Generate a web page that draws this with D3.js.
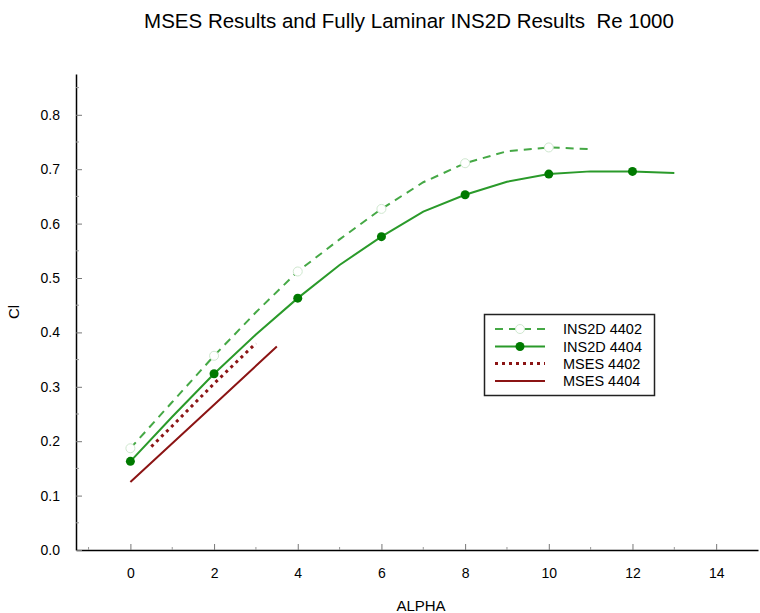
<!DOCTYPE html>
<html><head><meta charset="utf-8">
<script src="https://cdn.jsdelivr.net/npm/d3@7"></script>
<style>body{margin:0;background:#fff}svg{display:block}text{font-family:"Liberation Sans",Arial,Helvetica,sans-serif;white-space:pre}</style>
</head><body><svg id="c" width="760" height="613"></svg>
<script>
// Data
const ins4402Alpha = [0, 1, 2, 3, 4, 5, 6, 7, 8, 9, 10, 11];
const ins4402Cl    = [0.187, 0.272, 0.357, 0.437, 0.512, 0.571, 0.627, 0.676, 0.711, 0.733, 0.740, 0.737];
const ins4402Marks = [0, 2, 4, 6, 8, 10];
const ins4404Alpha = [0, 1, 2, 3, 4, 5, 6, 7, 8, 9, 10, 11, 12, 13];
const ins4404Cl    = [0.163, 0.245, 0.324, 0.396, 0.463, 0.524, 0.576, 0.622, 0.653, 0.677, 0.691, 0.696, 0.696, 0.693];
const ins4404Marks = [0, 2, 4, 6, 8, 10, 12];
const mses4402Alpha = [0.5, 1, 2, 3];
const mses4402Cl    = [0.19, 0.228, 0.306, 0.38];
const mses4404Alpha = [0, 2, 3.5];
const mses4404Cl    = [0.125, 0.267, 0.374];
const xTicks = [0, 2, 4, 6, 8, 10, 12, 14];
const yTicks = [0.0, 0.1, 0.2, 0.3, 0.4, 0.5, 0.6, 0.7, 0.8];
const legendLabels = ["INS2D 4402", "INS2D 4404", "MSES 4402", "MSES 4404"];

const svg = d3.select("#c");
const x = d3.scaleLinear().domain([-1.3, 15]).range([76, 758]);
const y = d3.scaleLinear().domain([0, 0.875]).range([550, 74]);

const cGreen = "#2a9a2a", cGreenDash = "#45a845", cMark = "#007a00", cRed = "#8b1414";

// axes
const xAxis = d3.axisBottom(x).tickValues(xTicks).tickSizeInner(-6).tickSizeOuter(0).tickPadding(18).tickFormat(d3.format("d"));
const gx = svg.append("g").attr("transform", "translate(0,550)").call(xAxis);
const yAxis = d3.axisLeft(y).tickValues(yTicks).tickSizeInner(-6).tickSizeOuter(0).tickPadding(16).tickFormat(d3.format(".1f"));
const gy = svg.append("g").attr("transform", "translate(76,0)").call(yAxis);
[gx, gy].forEach(g => {
  g.select(".domain").attr("stroke", "#000").attr("stroke-width", 1.5);
  g.selectAll(".tick line").attr("stroke", "#777");
  g.selectAll(".tick text").attr("font-size", 14).attr("fill", "#000").attr("font-family", "Liberation Sans, Arial, sans-serif");
});
// minor ticks
const xMinor = d3.range(-1, 15, 2);
svg.append("g").selectAll("line").data(xMinor).join("line")
  .attr("x1", d => x(d)).attr("x2", d => x(d)).attr("y1", 550).attr("y2", 547).attr("stroke", "#999");
const yMinor = d3.range(0.05, 0.86, 0.1);
svg.append("g").selectAll("line").data(yMinor).join("line")
  .attr("x1", 76).attr("x2", 79).attr("y1", d => y(d)).attr("y2", d => y(d)).attr("stroke", "#999");

const line = d3.line().x(d => x(d[0])).y(d => y(d[1]));
const zip = (a, b) => a.map((v, i) => [v, b[i]]);

svg.append("path").datum(zip(mses4404Alpha, mses4404Cl)).attr("d", line)
  .attr("fill", "none").attr("stroke", cRed).attr("stroke-width", 2);
svg.append("path").datum(zip(mses4402Alpha, mses4402Cl)).attr("d", line)
  .attr("fill", "none").attr("stroke", cRed).attr("stroke-width", 3).attr("stroke-dasharray", "3,4");
svg.append("path").datum(zip(ins4402Alpha, ins4402Cl)).attr("d", line)
  .attr("fill", "none").attr("stroke", cGreenDash).attr("stroke-width", 2).attr("stroke-dasharray", "8,6");
svg.append("path").datum(zip(ins4404Alpha, ins4404Cl)).attr("d", line)
  .attr("fill", "none").attr("stroke", cGreen).attr("stroke-width", 2);

const m4402 = zip(ins4402Alpha, ins4402Cl).filter(d => ins4402Marks.includes(d[0]));
svg.append("g").selectAll("circle").data(m4402).join("circle")
  .attr("cx", d => x(d[0])).attr("cy", d => y(d[1])).attr("r", 4.5)
  .attr("fill", "#fff").attr("stroke", "#cfe8cf").attr("stroke-width", 1);
const m4404 = zip(ins4404Alpha, ins4404Cl).filter(d => ins4404Marks.includes(d[0]));
svg.append("g").selectAll("circle").data(m4404).join("circle")
  .attr("cx", d => x(d[0])).attr("cy", d => y(d[1])).attr("r", 4.5)
  .attr("fill", cMark);

// legend
const lg = svg.append("g");
lg.append("rect").attr("x", 484.5).attr("y", 314.5).attr("width", 170).attr("height", 81)
  .attr("fill", "#fff").attr("stroke", "#222").attr("stroke-width", 1.5);
const rowsY = [329, 346.5, 363.5, 381];
const styles = [
  {c: cGreenDash, w: 2, dash: "8,6", m: "hollow"},
  {c: cGreen, w: 2, dash: null, m: "filled"},
  {c: cRed, w: 3, dash: "3,4", m: null},
  {c: cRed, w: 2, dash: null, m: null}
];
legendLabels.forEach((lab, i) => {
  const s = styles[i], yy = rowsY[i];
  lg.append("line").attr("x1", 495).attr("x2", 545).attr("y1", yy).attr("y2", yy)
    .attr("stroke", s.c).attr("stroke-width", s.w).attr("stroke-dasharray", s.dash);
  if (s.m === "hollow") lg.append("circle").attr("cx", 520).attr("cy", yy).attr("r", 4.5).attr("fill", "#fff").attr("stroke", "#cfe8cf");
  if (s.m === "filled") lg.append("circle").attr("cx", 520).attr("cy", yy).attr("r", 4.5).attr("fill", cMark);
  lg.append("text").attr("x", 563).attr("y", yy + 5).attr("font-size", 14.5).text(lab);
});

// titles
svg.append("text").attr("x", 409).attr("y", 28).attr("text-anchor", "middle").attr("font-size", 20.5).text("MSES Results and Fully Laminar INS2D Results  Re 1000");
svg.append("text").attr("x", 421).attr("y", 611).attr("text-anchor", "middle").attr("font-size", 15).text("ALPHA");
svg.append("text").attr("transform", "translate(19,312) rotate(-90)").attr("text-anchor", "middle").attr("font-size", 15).text("Cl");
</script></body></html>
